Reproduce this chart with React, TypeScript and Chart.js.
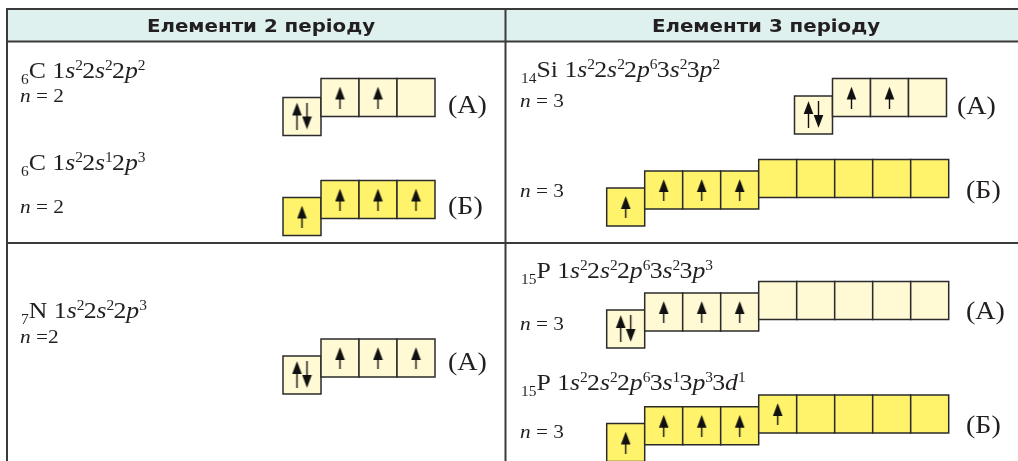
import React, { useEffect, useRef } from "react";
import { Chart, registerables } from "chart.js";

Chart.register(...registerables);

// ---------------- data ----------------
const headers = ["Елементи 2 періоду", "Елементи 3 періоду"];
const atomicNumbers = [6, 6, 7, 14, 14, 15, 15];
const symbols = ["C", "C", "N", "Si", "", "P", "P"];
const configurations = [
  "1s2 2s2 2p2",
  "1s2 2s1 2p3",
  "1s2 2s2 2p3",
  "1s2 2s2 2p6 3s2 3p2",
  "",
  "1s2 2s2 2p6 3s2 3p3",
  "1s2 2s2 2p6 3s1 3p3 3d1",
];
const levelLabels = ["n = 2", "n = 2", "n =2", "n = 3", "n = 3", "n = 3", "n = 3"];
const stateLabels = ["(А)", "(Б)", "(А)", "(А)", "(Б)", "(А)", "(Б)"];
const excited = [false, true, false, false, true, false, true];
// electrons per cell: 2 = paired (↑↓), 1 = single (↑), 0 = empty
const sCells = [[2], [1], [2], [2], [1], [2], [1]];
const pCells = [[1, 1, 0], [1, 1, 1], [1, 1, 1], [1, 1, 0], [1, 1, 1], [1, 1, 1], [1, 1, 1]];
const dCells: (number[] | null)[] = [null, null, null, null, [0, 0, 0, 0, 0], [0, 0, 0, 0, 0], [1, 0, 0, 0, 0]];

// ---------------- layout (pixels) ----------------
const W = 1018;
const H = 461;
const CELL = 38;
const HS = 1.12; // horizontal stretch of the text face
const layout = [
  { fx: 21, fy: 78, nx: 20, ny: 101.5, sx: 283, sy: 97.5, py: 78.5, dy: 0, lx: 448, ly: 106 },
  { fx: 21, fy: 170, nx: 20, ny: 213, sx: 283, sy: 197.5, py: 180.5, dy: 0, lx: 448, ly: 207 },
  { fx: 21, fy: 318, nx: 20, ny: 343, sx: 283, sy: 356, py: 339, dy: 0, lx: 448, ly: 363 },
  { fx: 521, fy: 77, nx: 520, ny: 107, sx: 794.5, sy: 96, py: 78.5, dy: 0, lx: 957, ly: 107 },
  { fx: 521, fy: 0, nx: 520, ny: 197, sx: 606.7, sy: 188, py: 171, dy: 159.5, lx: 966, ly: 191 },
  { fx: 521, fy: 278, nx: 520, ny: 330, sx: 606.7, sy: 310, py: 293, dy: 281.5, lx: 966, ly: 312 },
  { fx: 521, fy: 390, nx: 520, ny: 438, sx: 606.7, sy: 423.5, py: 406.7, dy: 395, lx: 966, ly: 426 },
];
const PALE = "#fff9d4";
const BRIGHT = "#fff36c";
const LINE = "#3a3a3a";
const HEADER_BG = "#dff1ef";
const TEXT = "#231f20";
const SERIF = '"Liberation Serif", "DejaVu Serif", serif';
const SANS = '"DejaVu Sans", "Liberation Sans", sans-serif';

type Pt = { x: number; y: number; fill?: string; kind?: string };

function buildPoints() {
  const boxes: Pt[] = [];
  const arrows: Pt[] = [];
  layout.forEach((L, i) => {
    const fill = excited[i] ? BRIGHT : PALE;
    const groups: { cells: number[]; x0: number; top: number }[] = [];
    groups.push({ cells: sCells[i], x0: L.sx, top: L.sy });
    groups.push({ cells: pCells[i], x0: L.sx + CELL, top: L.py });
    const d = dCells[i];
    if (d) groups.push({ cells: d, x0: L.sx + CELL * 4, top: L.dy });
    groups.forEach((g) => {
      g.cells.forEach((e, k) => {
        const cx = g.x0 + CELL * k + CELL / 2;
        const cy = g.top + CELL / 2;
        boxes.push({ x: cx, y: cy, fill });
        if (e === 1) arrows.push({ x: cx, y: cy, kind: "single" });
        if (e === 2) {
          arrows.push({ x: cx - 5, y: cy - 0.5, kind: "up" });
          arrows.push({ x: cx + 5, y: cy - 0.5, kind: "down" });
        }
      });
    });
  });
  return { boxes, arrows };
}

function makeArrow(up: boolean, h: number) {
  const c = document.createElement("canvas");
  const w = 11;
  c.width = w;
  c.height = h;
  const g = c.getContext("2d")!;
  g.fillStyle = "#111";
  g.strokeStyle = "#111";
  g.lineWidth = 1.4;
  if (!up) {
    g.translate(0, h);
    g.scale(1, -1);
  }
  g.beginPath();
  g.moveTo(w / 2, 0.3);
  g.lineTo(w / 2 + 4.8, 13);
  g.lineTo(w / 2 - 4.8, 13);
  g.closePath();
  g.fill();
  g.beginPath();
  g.moveTo(w / 2, 11);
  g.lineTo(w / 2, h);
  g.stroke();
  return c;
}

function drawFormula(
  ctx: CanvasRenderingContext2D,
  px: number,
  py: number,
  z: number,
  sym: string,
  cfg: string,
  size: number
) {
  ctx.save();
  ctx.translate(px, py);
  ctx.scale(HS, 1);
  ctx.textBaseline = "alphabetic";
  ctx.textAlign = "left";
  ctx.fillStyle = TEXT;
  const sub = size * 0.6;
  let x = 0;
  ctx.font = `${sub}px ${SERIF}`;
  ctx.fillText(String(z), x, size * 0.26);
  x += ctx.measureText(String(z)).width;
  ctx.font = `${size}px ${SERIF}`;
  ctx.fillText(sym + " ", x, 0);
  x += ctx.measureText(sym + " ").width;
  cfg.split(" ").forEach((term) => {
    const m = term.match(/^(\d)([spd])(\d+)$/);
    if (!m) return;
    ctx.font = `${size}px ${SERIF}`;
    ctx.fillText(m[1], x, 0);
    x += ctx.measureText(m[1]).width;
    ctx.font = `italic ${size}px ${SERIF}`;
    ctx.fillText(m[2], x, 0);
    x += ctx.measureText(m[2]).width;
    ctx.font = `${sub}px ${SERIF}`;
    ctx.fillText(m[3], x, -size * 0.36);
    x += ctx.measureText(m[3]).width * 0.9;
  });
  ctx.restore();
}

function drawLevel(ctx: CanvasRenderingContext2D, px: number, py: number, label: string, size: number) {
  ctx.save();
  ctx.translate(px, py);
  ctx.scale(HS, 1);
  ctx.fillStyle = TEXT;
  ctx.textAlign = "left";
  ctx.textBaseline = "alphabetic";
  ctx.font = `italic ${size}px ${SERIF}`;
  ctx.fillText(label[0], 0, 0);
  const w = ctx.measureText(label[0]).width;
  ctx.font = `${size}px ${SERIF}`;
  ctx.fillText(label.slice(1), w, 0);
  ctx.restore();
}

function drawScaled(ctx: CanvasRenderingContext2D, text: string, px: number, py: number, font: string, align: CanvasTextAlign, base: CanvasTextBaseline, hs: number) {
  ctx.save();
  ctx.translate(px, py);
  ctx.scale(hs, 1);
  ctx.fillStyle = TEXT;
  ctx.font = font;
  ctx.textAlign = align;
  ctx.textBaseline = base;
  ctx.fillText(text, 0, 0);
  ctx.restore();
}

const tablePlugin = {
  id: "tablePlugin",
  beforeDatasetsDraw(chart: any) {
    const ctx: CanvasRenderingContext2D = chart.ctx;
    const xs = chart.scales.x;
    const ys = chart.scales.y;
    const X = (v: number) => xs.getPixelForValue(v);
    const Y = (v: number) => ys.getPixelForValue(v);
    ctx.save();
    // header band
    ctx.fillStyle = HEADER_BG;
    ctx.fillRect(X(7), Y(9), X(W) - X(7), Y(41) - Y(9));
    ctx.strokeStyle = LINE;
    ctx.lineWidth = 2;
    ctx.beginPath();
    ctx.moveTo(X(6), Y(9));
    ctx.lineTo(X(W), Y(9));
    ctx.moveTo(X(6), Y(41.5));
    ctx.lineTo(X(W), Y(41.5));
    ctx.moveTo(X(6), Y(243));
    ctx.lineTo(X(W), Y(243));
    ctx.moveTo(X(7), Y(8));
    ctx.lineTo(X(7), Y(H));
    ctx.moveTo(X(505.5), Y(8));
    ctx.lineTo(X(505.5), Y(H));
    ctx.stroke();
    // headers
    drawScaled(ctx, headers[0], X(261), Y(31.5), `bold 18.5px ${SANS}`, "center", "alphabetic", 1.07);
    drawScaled(ctx, headers[1], X(766), Y(31.5), `bold 18.5px ${SANS}`, "center", "alphabetic", 1.07);
    // formulas and labels
    layout.forEach((L, i) => {
      if (configurations[i]) drawFormula(ctx, X(L.fx), Y(L.fy), atomicNumbers[i], symbols[i], configurations[i], 23);
      drawLevel(ctx, X(L.nx), Y(L.ny), levelLabels[i], 19);
      drawScaled(ctx, stateLabels[i], X(L.lx), Y(L.ly), `25px ${SERIF}`, "left", "middle", HS);
    });
    ctx.restore();
  },
};

export default function App() {
  const ref = useRef<HTMLCanvasElement | null>(null);
  useEffect(() => {
    document.body.style.margin = "0";
    document.body.style.background = "#ffffff";
    const { boxes, arrows } = buildPoints();
    const singleImg = makeArrow(true, 22);
    const upImg = makeArrow(true, 27);
    const downImg = makeArrow(false, 27);
    const chart = new Chart(ref.current!, {
      type: "scatter",
      data: {
        datasets: [
          {
            label: "electrons",
            data: arrows,
            order: 0,
            clip: false,
            pointStyle: (c: any) => {
              const k = c.raw ? c.raw.kind : "single";
              return k === "down" ? downImg : k === "up" ? upImg : singleImg;
            },
            pointRadius: 6,
          } as any,
          {
            label: "orbitals",
            data: boxes,
            order: 1,
            clip: false,
            pointStyle: "rect",
            pointRadius: CELL / Math.SQRT2,
            pointBackgroundColor: (c: any) => (c.raw ? c.raw.fill : PALE),
            pointBorderColor: "#2b2b2b",
            pointBorderWidth: 1.5,
          } as any,
        ],
      },
      options: {
        animation: false,
        responsive: true,
        maintainAspectRatio: false,
        events: [],
        layout: { padding: 0, autoPadding: false },
        plugins: { legend: { display: false }, tooltip: { enabled: false } },
        scales: {
          x: { type: "linear", min: 0, max: W, display: false },
          y: { type: "linear", min: 0, max: H, reverse: true, display: false },
        },
      },
      plugins: [tablePlugin],
    });
    return () => chart.destroy();
  }, []);
  return (
    <div style={{ width: W, height: H, position: "relative", background: "#fff" }}>
      <canvas ref={ref} />
    </div>
  );
}
